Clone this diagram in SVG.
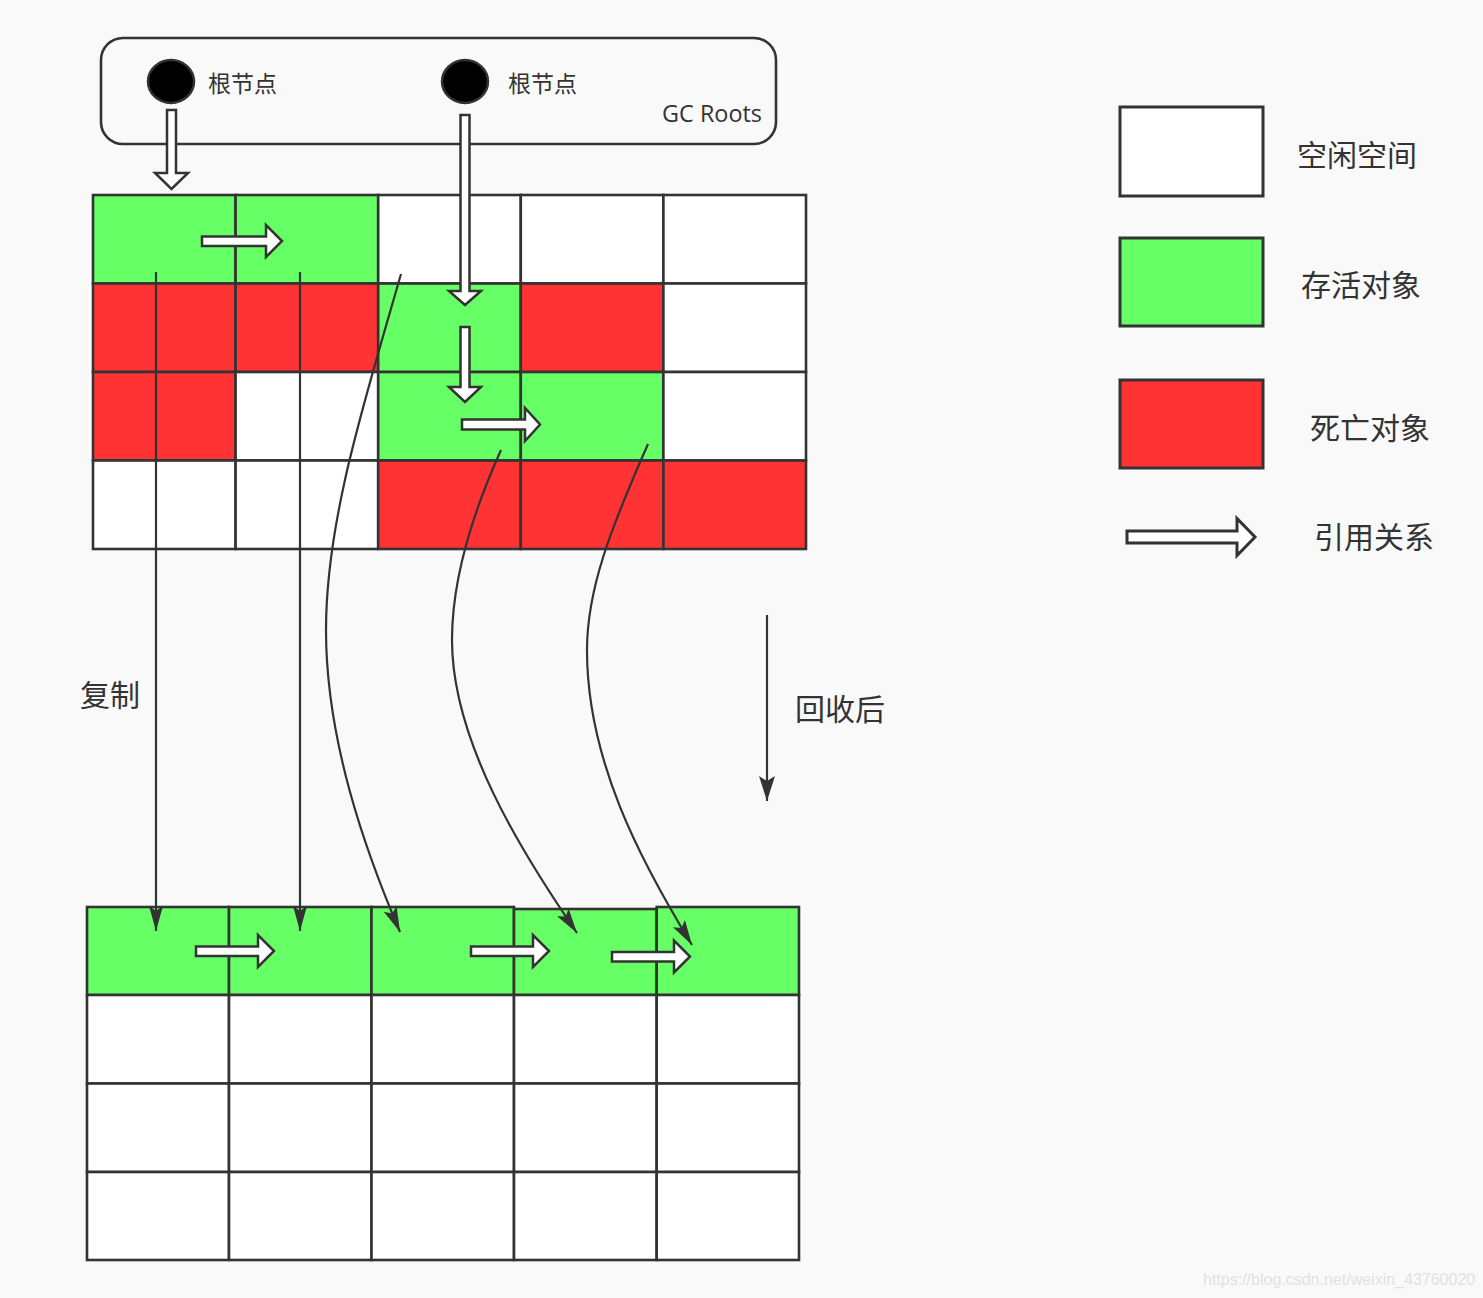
<svg xmlns="http://www.w3.org/2000/svg" width="1483" height="1298" viewBox="0 0 1483 1298">
<style>
.bg{fill:#f9f9f9}
.cell{stroke:#333;stroke-width:2.6}
.w{fill:#ffffff}
.g{fill:#66ff66}
.r{fill:#ff3333}
.barrow{fill:#ffffff;stroke:#333;stroke-width:2.5;stroke-linejoin:miter}
.link{fill:none;stroke:#333;stroke-width:2.2}
.cjk{font-family:"Noto Sans CJK SC","Noto Sans",sans-serif;fill:#333}
.lat{font-family:"Open Sans","Noto Sans",sans-serif;fill:#333}
</style>
<defs>
<marker id="ah" markerUnits="userSpaceOnUse" markerWidth="26" markerHeight="16" viewBox="0 0 26 16" refX="25" refY="8" orient="auto">
<path d="M0,1 L25,8 L0,15 L5,8 z" fill="#333"/>
</marker>
<marker id="ah2" markerUnits="userSpaceOnUse" markerWidth="26" markerHeight="18" viewBox="0 0 26 18" refX="25" refY="9" orient="auto">
<path d="M0,1 L25,9 L0,17 L5,9 z" fill="#333"/>
</marker>
</defs>
<rect class="bg" x="0" y="0" width="1483" height="1298"/>

<g id="gc-roots">
<rect x="101" y="38" width="675" height="106" rx="22" ry="22" fill="none" stroke="#333" stroke-width="2.6"/>
<ellipse cx="171" cy="81.5" rx="23" ry="21.5" fill="#000" stroke="#333" stroke-width="2.5"/>
<text class="cjk" x="208" y="92" font-size="23">根节点</text>
<ellipse cx="465" cy="81.5" rx="23" ry="21.5" fill="#000" stroke="#333" stroke-width="2.5"/>
<text class="cjk" x="508" y="92" font-size="23">根节点</text>
<text class="lat" x="762" y="122" font-size="23.4" text-anchor="end">GC Roots</text>
</g>

<g id="heap-before">
<rect class="cell g" x="93" y="195" width="142.6" height="88.5"/>
<rect class="cell g" x="235.6" y="195" width="142.6" height="88.5"/>
<rect class="cell w" x="378.2" y="195" width="142.6" height="88.5"/>
<rect class="cell w" x="520.8" y="195" width="142.6" height="88.5"/>
<rect class="cell w" x="663.4" y="195" width="142.6" height="88.5"/>
<rect class="cell r" x="93" y="283.5" width="142.6" height="88.5"/>
<rect class="cell r" x="235.6" y="283.5" width="142.6" height="88.5"/>
<rect class="cell g" x="378.2" y="283.5" width="142.6" height="88.5"/>
<rect class="cell r" x="520.8" y="283.5" width="142.6" height="88.5"/>
<rect class="cell w" x="663.4" y="283.5" width="142.6" height="88.5"/>
<rect class="cell r" x="93" y="372" width="142.6" height="88.5"/>
<rect class="cell w" x="235.6" y="372" width="142.6" height="88.5"/>
<rect class="cell g" x="378.2" y="372" width="142.6" height="88.5"/>
<rect class="cell g" x="520.8" y="372" width="142.6" height="88.5"/>
<rect class="cell w" x="663.4" y="372" width="142.6" height="88.5"/>
<rect class="cell w" x="93" y="460.5" width="142.6" height="88.5"/>
<rect class="cell w" x="235.6" y="460.5" width="142.6" height="88.5"/>
<rect class="cell r" x="378.2" y="460.5" width="142.6" height="88.5"/>
<rect class="cell r" x="520.8" y="460.5" width="142.6" height="88.5"/>
<rect class="cell r" x="663.4" y="460.5" width="142.6" height="88.5"/>
</g>

<g id="heap-after">
<rect class="cell g" x="87" y="907" width="142" height="88"/>
<rect class="cell g" x="229" y="907" width="142.5" height="88"/>
<rect class="cell g" x="371.5" y="907" width="142.5" height="88"/>
<rect class="cell g" x="514" y="909" width="142.7" height="86"/>
<rect class="cell g" x="656.7" y="907" width="142.3" height="88"/>
<rect class="cell w" x="87" y="995" width="142" height="88.5"/>
<rect class="cell w" x="229" y="995" width="142.5" height="88.5"/>
<rect class="cell w" x="371.5" y="995" width="142.5" height="88.5"/>
<rect class="cell w" x="514" y="995" width="142.7" height="88.5"/>
<rect class="cell w" x="656.7" y="995" width="142.3" height="88.5"/>
<rect class="cell w" x="87" y="1083.5" width="142" height="88.5"/>
<rect class="cell w" x="229" y="1083.5" width="142.5" height="88.5"/>
<rect class="cell w" x="371.5" y="1083.5" width="142.5" height="88.5"/>
<rect class="cell w" x="514" y="1083.5" width="142.7" height="88.5"/>
<rect class="cell w" x="656.7" y="1083.5" width="142.3" height="88.5"/>
<rect class="cell w" x="87" y="1172" width="142" height="88"/>
<rect class="cell w" x="229" y="1172" width="142.5" height="88"/>
<rect class="cell w" x="371.5" y="1172" width="142.5" height="88"/>
<rect class="cell w" x="514" y="1172" width="142.7" height="88"/>
<rect class="cell w" x="656.7" y="1172" width="142.3" height="88"/>
</g>

<g id="connectors">
<path class="link" d="M156,272 L156,931" marker-end="url(#ah)"/>
<path class="link" d="M300,272 L300,931" marker-end="url(#ah)"/>
<path class="link" d="M401,274 C365,400 326,520 326,630 C326,740 365,850 400,932" marker-end="url(#ah)"/>
<path class="link" d="M501,450 C465,530 452,590 452,640 C452,740 520,850 577,933" marker-end="url(#ah)"/>
<path class="link" d="M648,444 C610,530 587,590 587,650 C587,760 640,860 692,945" marker-end="url(#ah)"/>
<path class="link" d="M767,615 L767,801" marker-end="url(#ah2)"/>

<polygon class="barrow" points="167,110 176,110 176,173 188,173 171.5,189 155,173 167,173"/>
<polygon class="barrow" points="460.5,115 469.5,115 469.5,291 481,291 465,305 449,291 460.5,291"/>
<polygon class="barrow" points="460.5,327 469.5,327 469.5,387 481,387 465,402 449,387 460.5,387"/>
<polygon class="barrow" points="202,236.5 266,236.5 266,225 282,241 266,257 266,246 202,246"/>
<polygon class="barrow" points="462,419.5 525,419.5 525,408 540,424.5 525,441 525,429.5 462,429.5"/>
<polygon class="barrow" points="196,946.5 258,946.5 258,935 274,951 258,967 258,956 196,956"/>
<polygon class="barrow" points="471,946.5 533,946.5 533,935 549,951 533,967 533,956 471,956"/>
<polygon class="barrow" points="612,952 674,952 674,940.5 690,956.5 674,972.5 674,961.5 612,961.5"/>
</g>

<g id="labels">
<text class="cjk" x="80" y="706" font-size="30">复制</text>
<text class="cjk" x="795" y="720" font-size="30">回收后</text>
</g>

<g id="legend">
<rect x="1120" y="107" width="143" height="89" fill="#fff" stroke="#333" stroke-width="3"/>
<text class="cjk" x="1297" y="166" font-size="30">空闲空间</text>
<rect x="1120" y="238" width="143" height="88" fill="#66ff66" stroke="#333" stroke-width="3"/>
<text class="cjk" x="1301" y="296" font-size="30">存活对象</text>
<rect x="1120" y="380" width="143" height="88" fill="#ff3333" stroke="#333" stroke-width="3"/>
<text class="cjk" x="1310" y="439" font-size="30">死亡对象</text>
<polygon points="1127,531 1237,531 1237,518.5 1255,537 1237,555.5 1237,543 1127,543" fill="#fff" stroke="#333" stroke-width="3"/>
<text class="cjk" x="1314" y="548" font-size="30">引用关系</text>
</g>

<text x="1203" y="1285" font-family="Liberation Sans, Arial, sans-serif" font-size="16" fill="#e2e2e2">https://blog.csdn.net/weixin_43760020</text>
</svg>
